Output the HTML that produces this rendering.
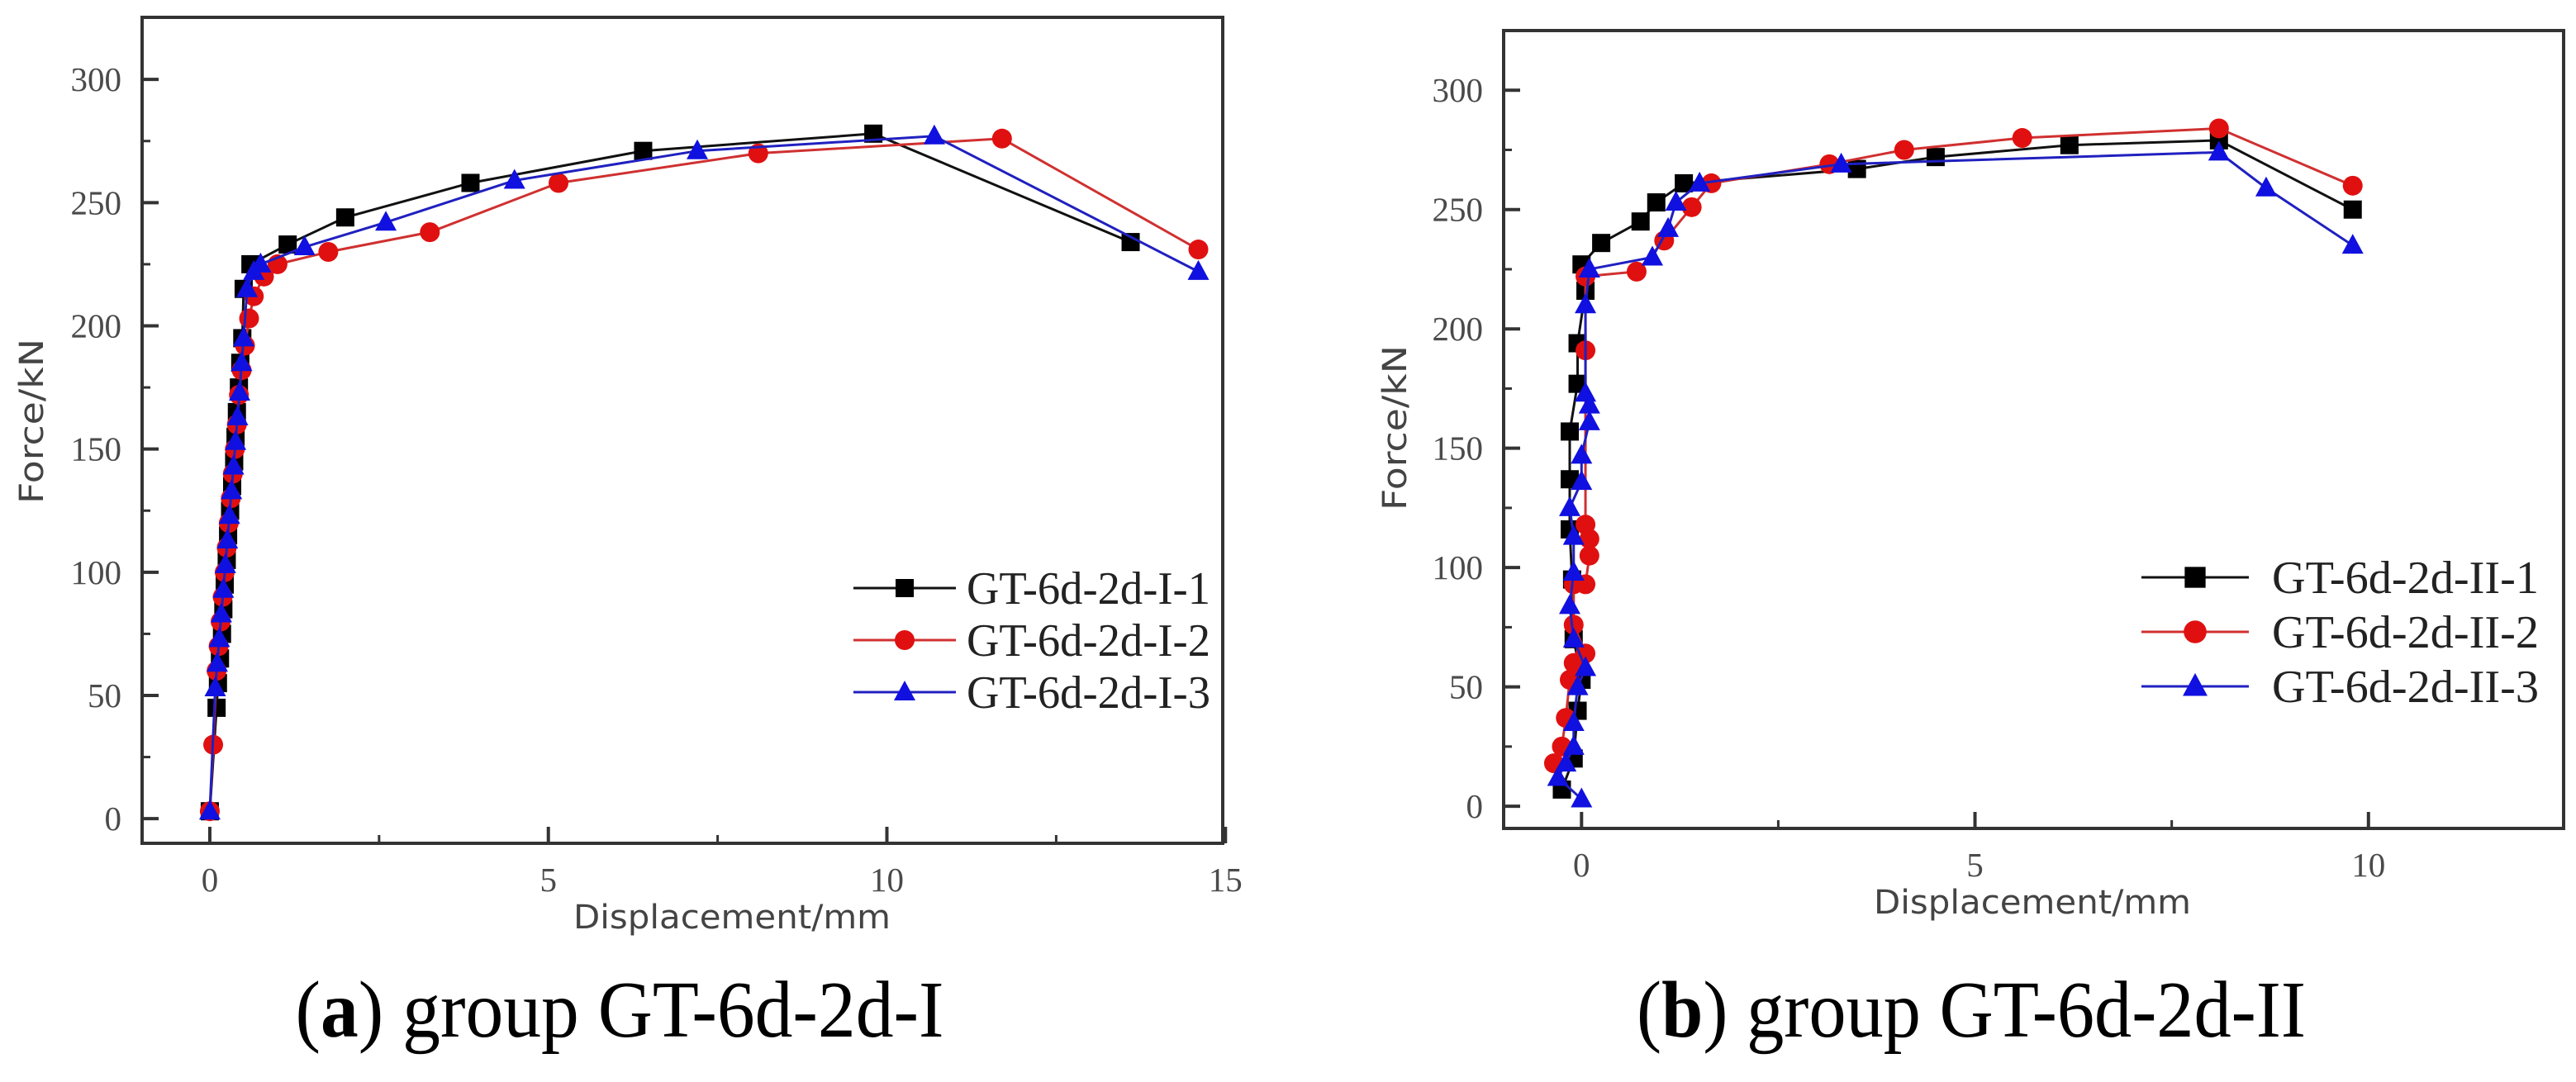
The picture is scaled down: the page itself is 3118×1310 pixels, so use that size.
<!DOCTYPE html>
<html><head><meta charset="utf-8">
<style>
html,body{margin:0;padding:0;background:#fff;}
svg{display:block;}
.tick{font-family:"Liberation Serif",serif;font-size:41px;fill:#4a4a4a;}
.atitle{font-family:"DejaVu Sans","Liberation Sans",sans-serif;font-size:40px;fill:#444;}
.leg{font-family:"Liberation Serif",serif;font-size:56px;fill:#222;}
.cap{font-family:"Liberation Serif",serif;font-size:98px;fill:#000;}
</style></head>
<body>
<svg id="fig" width="3118" height="1310" viewBox="0 0 3118 1310" xmlns="http://www.w3.org/2000/svg"></svg>
<script>
// ---- Chart (a) data ----
const aS1x=[0,0.1,0.12,0.15,0.18,0.2,0.22,0.25,0.27,0.3,0.33,0.36,0.38,0.4,0.43,0.45,0.48,0.5,0.6,1.15,2.0,3.85,6.4,9.8,13.6];
const aS1y=[3,35,45,55,65,75,85,95,105,115,125,135,145,155,165,175,185,195,215,225,233,244,258,271,278,234];
const aS2x=[0,0.05,0.1,0.13,0.16,0.19,0.22,0.25,0.28,0.31,0.34,0.37,0.4,0.43,0.47,0.52,0.58,0.65,0.8,1.0,1.75,3.25,5.15,8.1,11.7,14.6];
const aS2y=[3,30,40,50,60,70,80,90,100,110,120,130,140,150,160,172,182,192,203,212,220,225,230,238,258,270,276,231];
const aS3x=[0,0.08,0.11,0.14,0.17,0.2,0.23,0.26,0.29,0.32,0.35,0.38,0.41,0.44,0.47,0.5,0.55,0.65,0.75,1.4,2.6,4.5,7.2,10.7,14.6];
const aS3y=[3,33,43,53,63,73,83,93,103,113,123,133,143,153,163,173,185,195,215,222,225,232,242,259,271,277,222];
// ---- Chart (b) data ----
const bS1x=[-0.25,-0.1,-0.05,0,-0.1,-0.12,-0.15,-0.15,-0.15,-0.05,-0.05,0.05,0,0.25,0.75,0.95,1.3,3.5,4.5,6.2,8.1,9.8];
const bS1y=[7,20,40,53,70,95,116,137,157,177,194,216,227,236,245,253,261,267,272,277,279,250];
const bS2x=[-0.35,-0.25,-0.2,-0.15,-0.1,0.05,-0.1,-0.1,0.05,0.1,0.1,0.05,0.05,0.05,0.7,1.05,1.4,1.65,3.15,4.1,5.6,8.1,9.8];
const bS2y=[18,25,37,53,60,64,76,93,93,105,112,118,191,222,224,237,251,261,269,275,280,284,260];
const bS3x=[0,-0.3,-0.2,-0.1,-0.1,-0.05,0.05,-0.1,-0.15,-0.1,-0.1,-0.15,0,0,0.1,0.1,0.05,0.05,0.1,0.9,1.1,1.2,1.5,3.3,8.1,8.7,9.8];
const bS3y=[3,12,18,25,35,50,58,70,84,98,113,125,136,147,161,168,173,210,225,230,242,253,261,269,274,259,235];
const aLabels=["GT-6d-2d-I-1","GT-6d-2d-I-2","GT-6d-2d-I-3"];
const bLabels=["GT-6d-2d-II-1","GT-6d-2d-II-2","GT-6d-2d-II-3"];
const aXTicks=[0,5,10,15];
const bXTicks=[0,5,10];
const yTicks=[0,50,100,150,200,250,300];

const NS="http://www.w3.org/2000/svg";
const svg=document.getElementById('fig');
function mk(tag,attrs,parent){const e=document.createElementNS(NS,tag);for(const k in attrs)e.setAttribute(k,attrs[k]);(parent||svg).appendChild(e);return e;}
const colors=["#000000","#e01010","#1010e0"];
const lineColors=["#111111","#d03030","#2020c0"];

function marker(g,type,x,y,c,s){
  s=s||1;
  if(type===0)return mk('rect',{x:x-11*s,y:y-11*s,width:22*s,height:22*s,fill:c},g);
  if(type===1)return mk('circle',{cx:x,cy:y,r:12*s,fill:c},g);
  return mk('polygon',{points:`${x},${y-14*s} ${x-13*s},${y+10*s} ${x+13*s},${y+10*s}`,fill:c},g);
}

function chart(cfg){
  const g=mk('g',{});
  
  
  const sx=v=>cfg.x0+(v-cfg.xmin)*(cfg.x1-cfg.x0)/(cfg.xmax-cfg.xmin);
  const sy=v=>cfg.y1-(v-cfg.ymin)*(cfg.y1-cfg.y0)/(cfg.ymax-cfg.ymin);
  const box=mk('rect',{x:cfg.x0,y:cfg.y0,width:cfg.x1-cfg.x0,height:cfg.y1-cfg.y0,fill:'none',stroke:'#333',"stroke-width":4},g);
  
  
  yTicks.forEach(t=>{
    const y=sy(t);
    const tk=mk('line',{x1:cfg.x0,x2:cfg.x0+20,y1:y,y2:y,stroke:'#333',"stroke-width":4},g);
    
    
    if(t<300){const ym=sy(t+25);const mt=mk('line',{x1:cfg.x0,x2:cfg.x0+10,y1:ym,y2:ym,stroke:'#333',"stroke-width":3},g);
      
      }
    const lb=mk('text',{x:cfg.x0-25,y:y+14,"text-anchor":"end",class:"tick"},g);lb.textContent=t;
    
    
  });
  cfg.xt.forEach(t=>{
    const x=sx(t);
    const tk=mk('line',{x1:x,x2:x,y1:cfg.y1,y2:cfg.y1-20,stroke:'#333',"stroke-width":4},g);
    
    
    const xm=sx(t+2.5);
    if(t+2.5<cfg.xmax){const mt=mk('line',{x1:xm,x2:xm,y1:cfg.y1,y2:cfg.y1-10,stroke:'#333',"stroke-width":3},g);
      
      }
    const lb=mk('text',{x:x,y:cfg.y1+58,"text-anchor":"middle",class:"tick"},g);lb.textContent=t;
    
    
  });
  const yt=mk('text',{x:0,y:0,"text-anchor":"middle",class:"atitle",textLength:200,lengthAdjust:"spacingAndGlyphs",transform:`translate(${cfg.ytx},${cfg.ytY}) rotate(-90)`},g);
  yt.textContent="Force/kN";
  
  
  const xt=mk('text',{x:cfg.xtx,y:cfg.xtY,"text-anchor":"middle",class:"atitle",textLength:384,lengthAdjust:"spacingAndGlyphs"},g);
  xt.textContent="Displacement/mm";
  
  
  cfg.series.forEach((s,i)=>{
    const n=Math.min(s[0].length,s[1].length);
    const sg=mk('g',{},g);
    
    
    let pts=[];
    for(let k=0;k<n;k++)pts.push(sx(s[0][k])+','+sy(s[1][k]));
    const pl=mk('polyline',{points:pts.join(' '),fill:'none',stroke:lineColors[i],"stroke-width":3},sg);
    
    
    for(let k=0;k<n;k++){const m=marker(sg,i,sx(s[0][k]),sy(s[1][k]),colors[i]);
      
      }
  });
  const lg=mk('g',{},g);
  
  
  cfg.labels.forEach((L,i)=>{
    const y=cfg.legY+i*cfg.legDy;
    const ln=mk('line',{x1:cfg.legX,x2:cfg.legX+cfg.legW,y1:y,y2:y,stroke:lineColors[i],"stroke-width":3},lg);
    
    
    const m=marker(lg,i,cfg.legX+cfg.legW/2,y,colors[i],cfg.legMs);
    
    
    const tx=mk('text',{x:cfg.legTx,y:y+19,class:"leg",textLength:cfg.legTl,lengthAdjust:"spacingAndGlyphs"},lg);tx.textContent=L;
    
    
  });
  const cp=mk('text',{x:cfg.capX,y:1255,"text-anchor":"middle",class:"cap",textLength:cfg.capW,lengthAdjust:"spacingAndGlyphs"},g);
  cp.innerHTML=cfg.cap;
  
  
}

chart({name:'chart-a',x0:172,x1:1480,y0:21,y1:1021,xmin:-1.0,xmax:14.96,ymin:-10,ymax:325.2,
  xt:aXTicks,series:[[aS1x,aS1y.slice(0,1).concat(aS1y.slice(2))],[aS2x,aS2y.slice(0,2).concat(aS2y.slice(4))],[aS3x,aS3y.slice(0,1).concat(aS3y.slice(3))]],
  labels:aLabels,legX:1033,legW:124,legMs:1,legTx:1170,legTl:295,legY:712,legDy:63,ytx:52,ytY:510,xtx:886,xtY:1124,capX:750,capW:785,
  cap:'(<tspan font-weight="bold">a</tspan>) group GT-6d-2d-I'});
chart({name:'chart-b',x0:1820,x1:3103,y0:37,y1:1003,xmin:-0.99,xmax:12.48,ymin:-9.3,ymax:325,
  xt:bXTicks,series:[[bS1x,bS1y],[bS2x,bS2y],[bS3x,bS3y]],
  labels:bLabels,legX:2592,legW:130,legMs:1.15,legTx:2750,legTl:323,legY:699,legDy:66,ytx:1702,ytY:518,xtx:2460,xtY:1106,capX:2386,capW:810,
  cap:'(<tspan font-weight="bold">b</tspan>) group GT-6d-2d-II'});
</script>
</body></html>
